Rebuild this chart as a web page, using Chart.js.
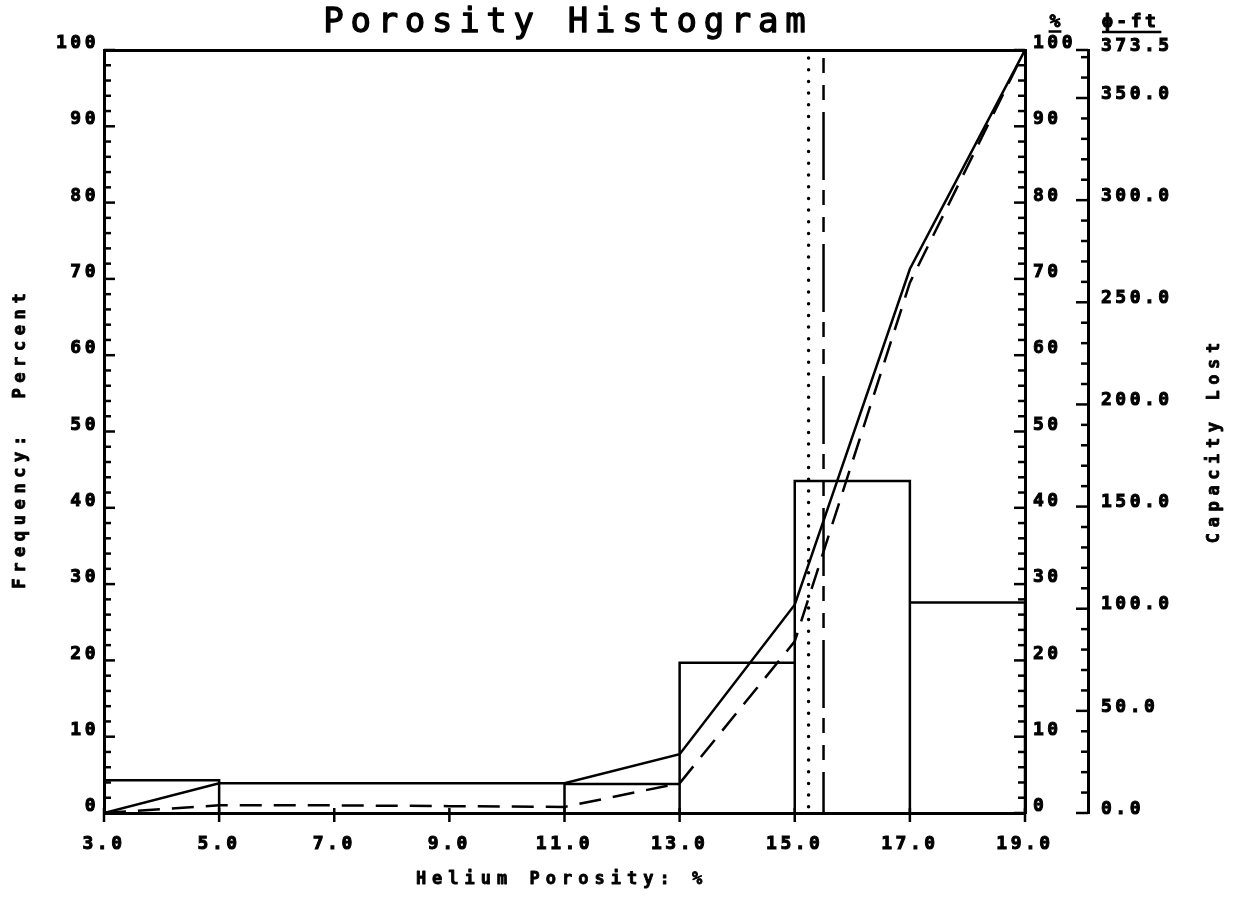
<!DOCTYPE html>
<html>
<head>
<meta charset="utf-8">
<script src="https://cdn.jsdelivr.net/npm/chart.js@4.4.1/dist/chart.umd.min.js"></script>
<style>
  html, body { margin: 0; padding: 0; background: #ffffff; }
  #wrap { width: 1233px; height: 899px; position: relative; background: #ffffff; }
  canvas { display: block; }
</style>
</head>
<body>
<div id="wrap"><canvas id="chart" width="1233" height="899"></canvas></div>
<script>
// ---------------- data ----------------
const binEdges        = [3, 5, 7, 9, 11, 13, 15, 17, 19];          // Helium porosity, %
const freqPct         = [4.3, 0, 0, 0, 3.8, 19.7, 43.5, 27.6];      // frequency per bin, %
const cumFreqPct      = [0, 3.9, 3.9, 3.9, 3.9, 7.7, 27.3, 71.3, 100];  // cumulative frequency at bin edges, %
const cumCapacityPct  = [0, 1.0, 1.0, 0.9, 0.8, 3.9, 22.5, 69.5, 100];  // cumulative capacity lost at bin edges, %
const meanPorosity    = 15.24;   // dotted vertical line
const medianPorosity  = 15.5;    // long-dash vertical line
const capacityMax     = 373.5;   // phi-ft at 100 %

const xTickValues   = [3, 5, 7, 9, 11, 13, 15, 17, 19];
const pctTickValues = [0, 10, 20, 30, 40, 50, 60, 70, 80, 90, 100];
const capTickValues = [0, 50, 100, 150, 200, 250, 300, 350, 373.5];

const chartTitle  = 'Porosity Histogram';
const xTitle      = 'Helium Porosity: %';
const yTitle      = 'Frequency:  Percent';
const y2Title     = 'Capacity Lost';
const pctHeader   = '%';
const capHeader   = 'ϕ-ft';

// ---------------- build datasets from the arrays ----------------
const histPoints = [];
freqPct.forEach((f, i) => {
  if (f <= 0) return;
  const a = binEdges[i], b = binEdges[i + 1];
  histPoints.push({x: a, y: 0}, {x: a, y: f}, {x: b, y: f}, {x: b, y: 0}, {x: b, y: null});
});
const cumFreqPoints = binEdges.map((e, i) => ({x: e, y: cumFreqPct[i]}));
const cumCapPoints  = binEdges.map((e, i) => ({x: e, y: cumCapacityPct[i]}));
const vLine = v => [{x: v, y: 100}, {x: v, y: 0}];

const MONO = '"DejaVu Sans Mono", monospace';
const tickFont = {family: MONO, size: 18, weight: 'bold'};
const BLACK = '#000000';

// letter spacing for the plotter-like lettering of the tick labels
const spacingPlugin = {
  id: 'spacing',
  beforeDraw(chart) { chart.ctx.letterSpacing = '3.5px'; },
  afterDraw(chart) { chart.ctx.letterSpacing = '0px'; }
};

// tick marks drawn inside the frame, positioned by the chart's own scales
const tickMarks = {
  id: 'tickMarks',
  afterDatasetsDraw(chart) {
    const {ctx} = chart;
    const {x, y, pct, cap} = chart.scales;
    ctx.save();
    ctx.letterSpacing = '0px';
    ctx.strokeStyle = BLACK;
    ctx.lineWidth = 2.5;
    ctx.lineCap = 'butt';
    const seg = (x1, y1, x2, y2) => { ctx.beginPath(); ctx.moveTo(x1, y1); ctx.lineTo(x2, y2); ctx.stroke(); };
    for (let v = y.min; v <= y.max + 1e-9; v += 2) {
      const py = y.getPixelForValue(v);
      seg(y.right, py, y.right + (v % 10 === 0 ? 11 : 7), py);
    }
    for (let v = pct.min; v <= pct.max + 1e-9; v += 2) {
      const py = pct.getPixelForValue(v);
      seg(pct.left, py, pct.left - (v % 10 === 0 ? 11 : 7), py);
    }
    for (let v = 0; v < cap.max; v += 10) {
      const py = cap.getPixelForValue(v);
      seg(cap.left, py, cap.left - (v % 50 === 0 ? 12 : 7), py);
    }
    const pTop = cap.getPixelForValue(cap.max);
    seg(cap.left, pTop, cap.left - 12, pTop);
    xTickValues.forEach(v => {
      const px = x.getPixelForValue(v);
      seg(px, x.top - 5, px, x.top + 9);
    });
    ctx.restore();
  }
};

// titles with plotter-style letter spacing
const plotterText = {
  id: 'plotterText',
  afterDraw(chart) {
    const ctx = chart.ctx;
    const put = (s, px, py, font, sp, align, rot, stroke) => {
      ctx.save();
      ctx.letterSpacing = sp + 'px';
      ctx.font = font;
      ctx.fillStyle = BLACK;
      ctx.strokeStyle = BLACK;
      ctx.lineJoin = 'round';
      ctx.textAlign = align;
      ctx.textBaseline = 'alphabetic';
      ctx.translate(px, py);
      if (rot) ctx.rotate(rot);
      const ox = align === 'center' ? sp / 2 : 0;
      ctx.fillText(s, ox, 0);
      if (stroke) { ctx.lineWidth = stroke; ctx.strokeText(s, ox, 0); }
      const w = ctx.measureText(s).width;
      ctx.restore();
      return w;
    };
    const ca = chart.chartArea;
    put(chartTitle, (ca.left + ca.right) / 2, 32, `normal 34px ${MONO}`, 6.7, 'center', 0, 1.3);
    put(xTitle, 559, 884, `bold 17px ${MONO}`, 6, 'center', 0, 0.8);
    put(yTitle, 25, 441, `bold 17px ${MONO}`, 5.6, 'center', -Math.PI / 2, 0.8);
    put(y2Title, 1219, 443, `bold 17px ${MONO}`, 5.6, 'center', -Math.PI / 2, 0.8);

    // axis headers with underline
    const hFont = `bold 18px ${MONO}`;
    const w1 = put(pctHeader, 1055, 27, hFont, 3.5, 'center', 0, 1);
    const w2 = put(capHeader, 1102, 27, hFont, 3.5, 'left', 0, 1);
    ctx.save();
    ctx.strokeStyle = BLACK;
    ctx.lineWidth = 2.5;
    ctx.beginPath();
    ctx.moveTo(1055 - (w1 - 3.5) / 2 - 1, 31.5); ctx.lineTo(1055 + (w1 - 3.5) / 2 + 1, 31.5);
    ctx.moveTo(1102, 32); ctx.lineTo(1102 + w2 + 2, 32);
    ctx.stroke();
    ctx.restore();
  }
};

const axisBorder = {display: true, color: BLACK, width: 3};
const noGrid = {display: false, drawTicks: false};
const tickText = { font: tickFont, color: BLACK, textStrokeColor: BLACK, textStrokeWidth: 1, autoSkip: false };

new Chart(document.getElementById('chart'), {
  type: 'line',
  data: {
    datasets: [
      { label: 'Frequency', data: histPoints, yAxisID: 'y', borderColor: BLACK, borderWidth: 2.5,
        pointRadius: 0, tension: 0, fill: false, spanGaps: false },
      { label: 'Cumulative frequency', data: cumFreqPoints, yAxisID: 'pct', borderColor: BLACK, borderWidth: 2.5,
        pointRadius: 0, tension: 0, fill: false },
      { label: 'Cumulative capacity lost', data: cumCapPoints, yAxisID: 'pct', borderColor: BLACK, borderWidth: 2.5,
        borderDash: [22, 12], pointRadius: 0, tension: 0, fill: false },
      { label: 'Mean', data: vLine(meanPorosity), yAxisID: 'y', borderColor: BLACK, borderWidth: 3.5,
        borderDash: [0, 11.7], borderDashOffset: -8, borderCapStyle: 'round', pointRadius: 0, fill: false },
      { label: 'Median', data: vLine(medianPorosity), yAxisID: 'y', borderColor: BLACK, borderWidth: 2.5,
        borderDash: [68, 10, 15, 12, 15, 12], borderDashOffset: 70, pointRadius: 0, fill: false }
    ]
  },
  options: {
    responsive: false,
    animation: false,
    devicePixelRatio: 1,
    layout: { padding: { top: 50, left: 0, right: 0, bottom: 0 } },
    plugins: { legend: { display: false }, tooltip: { enabled: false }, title: { display: false } },
    scales: {
      x: {
        type: 'linear', position: 'bottom', min: 3, max: 19,
        afterBuildTicks: s => { s.ticks = xTickValues.map(v => ({value: v})); },
        ticks: { ...tickText, maxRotation: 0, padding: 21, callback: v => Number(v).toFixed(1) },
        grid: noGrid, border: axisBorder,
        afterFit: s => { s.height = 86; }
      },
      xTop: {
        type: 'linear', position: 'top', min: 3, max: 19, display: true,
        ticks: { display: false }, grid: noGrid, border: axisBorder,
        afterFit: s => { s.height = 0; }
      },
      y: {
        type: 'linear', position: 'left', min: 0, max: 100,
        afterBuildTicks: s => { s.ticks = pctTickValues.map(v => ({value: v})); },
        ticks: { ...tickText, padding: 5, labelOffset: -6.5, callback: v => String(v) },
        grid: noGrid, border: axisBorder,
        afterFit: s => { s.width = 104; }
      },
      pct: {
        type: 'linear', position: 'right', weight: 1, min: 0, max: 100, display: true,
        afterBuildTicks: s => { s.ticks = pctTickValues.map(v => ({value: v})); },
        ticks: { ...tickText, padding: 8, labelOffset: -6.5, callback: v => String(v) },
        grid: noGrid, border: axisBorder,
        afterFit: s => { s.width = 63; }
      },
      cap: {
        type: 'linear', position: 'right', weight: 2, min: 0, max: capacityMax, display: true,
        afterBuildTicks: s => { s.ticks = capTickValues.map(v => ({value: v})); },
        ticks: { ...tickText, padding: 13, labelOffset: -4, callback: v => Number(v).toFixed(1) },
        grid: noGrid, border: axisBorder,
        afterFit: s => { s.width = 145; }
      }
    }
  },
  plugins: [spacingPlugin, tickMarks, plotterText]
});
</script>
</body>
</html>
